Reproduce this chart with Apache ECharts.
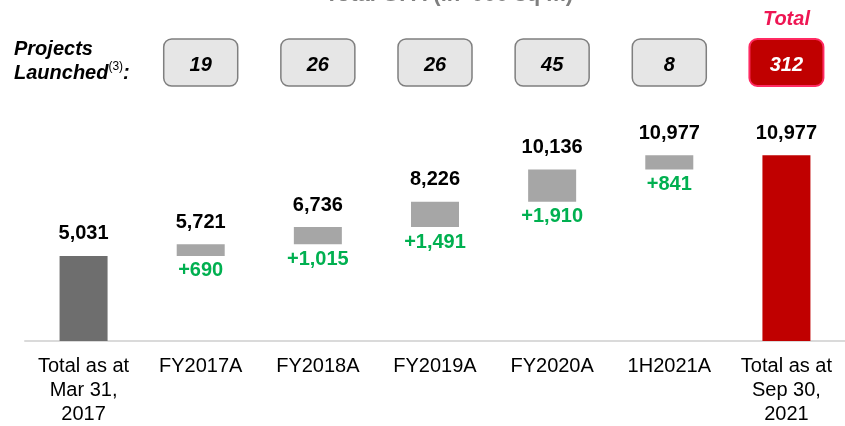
<!DOCTYPE html>
<html>
<head>
    <meta charset="utf-8">
    <title>GFA waterfall</title>
    <script src="https://cdn.jsdelivr.net/npm/echarts@6/dist/echarts.min.js"></script>
    <style>
        html, body { margin: 0; padding: 0; background: #fff; }
        #chart { width: 845px; height: 426px; }
    </style>
</head>
<body>
    <div id="chart"></div>
    <script>
        // 数据
        const categories = ['Total as at\nMar 31,\n2017', 'FY2017A', 'FY2018A', 'FY2019A', 'FY2020A', '1H2021A', 'Total as at\nSep 30,\n2021'];
        const runningTotal = [5031, 5721, 6736, 8226, 10136, 10977, 10977];
        const increments = [null, 690, 1015, 1491, 1910, 841, null];
        const projectsLaunched = [null, 19, 26, 26, 45, 8, 312];

        const FONT = 'Arial, "Liberation Sans", sans-serif';
        const barColors = ['#6e6e6e', '#a6a6a6', '#a6a6a6', '#a6a6a6', '#a6a6a6', '#a6a6a6', '#c00000'];

        // 透明底座 + 可见部分
        const baseData = runningTotal.map((t, i) => increments[i] == null ? 0 : t - increments[i]);
        const shownData = runningTotal.map((t, i) => ({
            value: increments[i] == null ? t : increments[i],
            itemStyle: { color: barColors[i] }
        }));

        const chart = echarts.init(document.getElementById('chart'));

        chart.setOption({
            animation: false,
            title: {
                text: "Total GFA (in '000 sq m)",
                left: 320,
                top: -21,
                textStyle: { fontFamily: FONT, fontSize: 22, fontWeight: 'bold', color: '#7f7f7f' }
            },
            graphic: [{
                type: 'text',
                left: 14,
                top: 39,
                style: {
                    text: '{a|Projects}\n{a|Launched}{s|(3)}{a|:}',
                    rich: {
                        a: { fontFamily: FONT, fontSize: 20, fontStyle: 'italic', fontWeight: 'bold', lineHeight: 24, fill: '#000' },
                        s: { fontFamily: FONT, fontSize: 12, lineHeight: 12, verticalAlign: 'top', fill: '#000' }
                    }
                }
            }],
            grid: [
                { left: 25, width: 825, top: 138, bottom: 83 },
                { left: 25, width: 825, top: 39, height: 47 }
            ],
            xAxis: [{
                type: 'category',
                gridIndex: 0,
                data: categories,
                axisLine: { lineStyle: { color: '#dadada', width: 2 } },
                axisTick: { show: false },
                axisLabel: {
                    interval: 0,
                    margin: 13,
                    fontFamily: FONT,
                    fontSize: 20,
                    lineHeight: 24,
                    color: '#000'
                }
            }, {
                type: 'category',
                gridIndex: 1,
                data: categories,
                show: false
            }],
            yAxis: [{
                type: 'value',
                gridIndex: 0,
                min: 0,
                max: 12000,
                show: false
            }, {
                type: 'value',
                gridIndex: 1,
                min: 0,
                max: 1,
                show: false
            }],
            series: [{
                name: 'base',
                type: 'bar',
                stack: 'wf',
                barWidth: 48,
                itemStyle: { color: 'transparent' },
                label: {
                    show: true,
                    position: 'insideTop',
                    distance: 5,
                    fontFamily: FONT,
                    fontSize: 20,
                    fontWeight: 'bold',
                    color: '#00b050',
                    formatter: p => increments[p.dataIndex] == null ? '' : '+' + increments[p.dataIndex].toLocaleString('en-US')
                },
                data: baseData
            }, {
                name: 'value',
                type: 'bar',
                stack: 'wf',
                barWidth: 48,
                label: {
                    show: true,
                    position: 'top',
                    distance: 12,
                    fontFamily: FONT,
                    fontSize: 20,
                    fontWeight: 'bold',
                    color: '#000',
                    formatter: p => runningTotal[p.dataIndex].toLocaleString('en-US')
                },
                data: shownData
            }, {
                name: 'projects',
                type: 'custom',
                xAxisIndex: 1,
                yAxisIndex: 1,
                data: projectsLaunched.map((p, i) => [i, p]).filter(d => d[1] != null),
                encode: { x: 0 },
                renderItem: function (params, api) {
                    const idx = api.value(0);
                    const c = api.coord([idx, 0.5]);
                    const isTotal = idx === categories.length - 1;
                    const children = [{
                        type: 'rect',
                        shape: { x: c[0] - 37, y: c[1] - 23.5, width: 74, height: 47, r: 8 },
                        style: {
                            fill: isTotal ? '#c00000' : '#e6e6e6',
                            stroke: isTotal ? '#ff2a62' : '#7f7f7f',
                            lineWidth: isTotal ? 2 : 1.5
                        }
                    }, {
                        type: 'text',
                        style: {
                            text: String(api.value(1)),
                            x: c[0],
                            y: c[1] + 3,
                            align: 'center',
                            verticalAlign: 'middle',
                            font: 'italic bold 20px ' + FONT,
                            fill: isTotal ? '#fff' : '#000'
                        }
                    }];
                    if (isTotal) {
                        children.push({
                            type: 'text',
                            style: {
                                text: 'Total',
                                x: c[0],
                                y: c[1] - 43,
                                align: 'center',
                                verticalAlign: 'middle',
                                font: 'italic bold 20px ' + FONT,
                                fill: '#ee1653'
                            }
                        });
                    }
                    return { type: 'group', children: children };
                }
            }]
        });
    </script>
</body>
</html>
